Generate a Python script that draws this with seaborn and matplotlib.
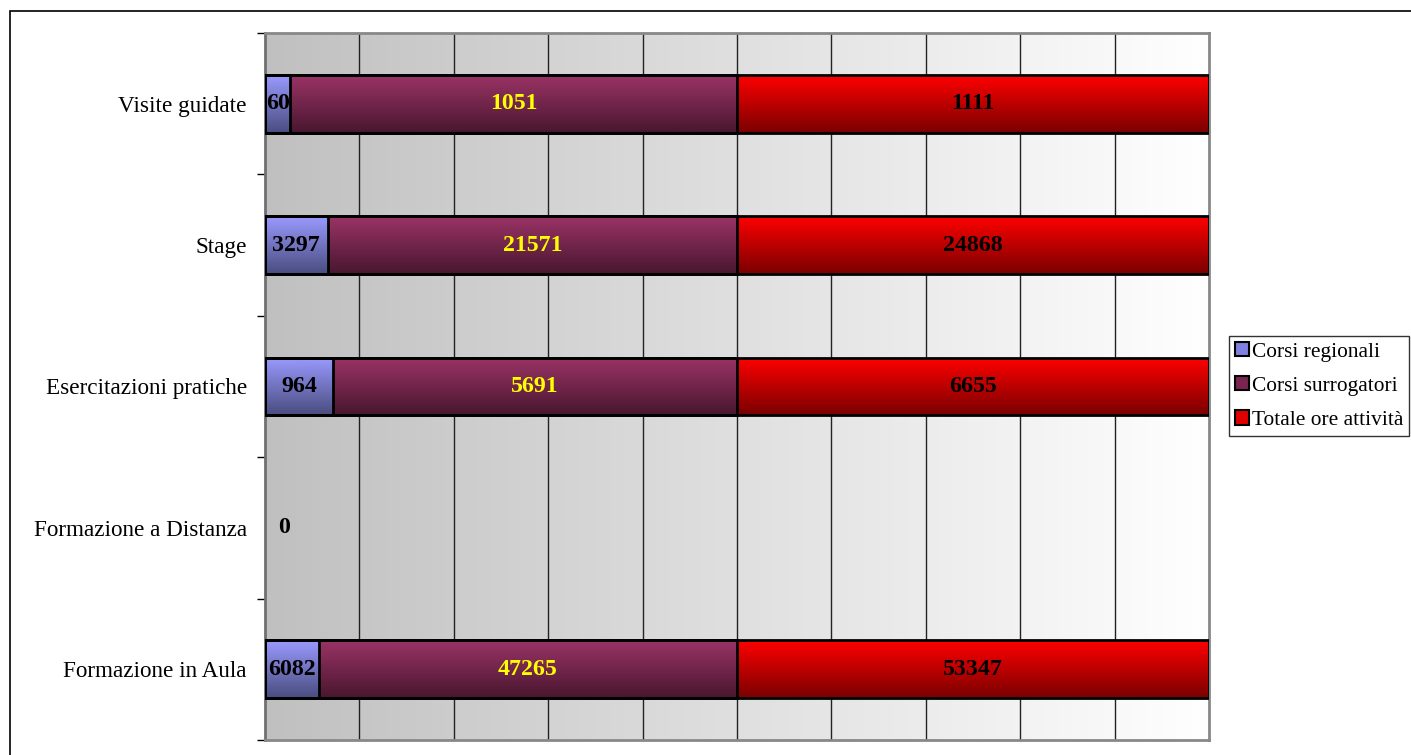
import numpy as np
import pandas as pd
import matplotlib
matplotlib.use("Agg")
import matplotlib.pyplot as plt
import matplotlib.patches as mpatches
import seaborn as sns

# ---- data ----
categories = ["Visite guidate", "Stage", "Esercitazioni pratiche",
              "Formazione a Distanza", "Formazione in Aula"]
regionali = [60, 3297, 964, 0, 6082]
surrogatori = [1051, 21571, 5691, 0, 47265]
totale = [1111, 24868, 6655, 0, 53347]
series_names = ["Corsi regionali", "Corsi surrogatori", "Totale ore attività"]

sns.set_theme(style="white")
plt.rcParams["font.family"] = ["Liberation Serif", "DejaVu Serif"]
plt.rcParams["text.color"] = "black"

reg = np.array(regionali, float)
sur = np.array(surrogatori, float)
tot = np.array(totale, float)
grand = reg + sur + tot
safe = np.where(grand > 0, grand, 1)
p_reg = reg / safe
p_sur = sur / safe
p_tot = tot / safe
cum1 = p_reg
cum2 = p_reg + p_sur
cum3 = p_reg + p_sur + p_tot

df = pd.DataFrame({"cat": categories, "c1": cum1, "c2": cum2, "c3": cum3})

grad = {
    "Corsi regionali": ("#9a9aff", "#4a4d80"),
    "Corsi surrogatori": ("#9b3366", "#48172f"),
    "Totale ore attività": ("#ff0000", "#7a0000"),
}

fig = plt.figure(figsize=(14.11, 7.55), dpi=100)
ax = fig.add_axes([265 / 1411, 1 - 740 / 755, (1209 - 265) / 1411, (740 - 33) / 755])

# outer border
fig.patches.append(mpatches.Rectangle((10 / 1411, -0.05), 1.1, 1 - 11 / 755 + 0.05,
                                      transform=fig.transFigure, fill=False,
                                      edgecolor="black", linewidth=1.2))

# background gradient
bg = np.linspace(0xc0 / 255, 1.0, 256)
bg_img = np.dstack([bg, bg, bg])
ax.imshow(bg_img, extent=(0, 1, 4.5, -0.5), aspect="auto", zorder=0, interpolation="bilinear")

bar_w = 0.41
z = 2
for col, name in [("c3", "Totale ore attività"), ("c2", "Corsi surrogatori"), ("c1", "Corsi regionali")]:
    n_before = len(ax.patches)
    sns.barplot(data=df, x=col, y="cat", orient="h", color=grad[name][0],
                width=bar_w, edgecolor="black", linewidth=2, ax=ax)
    top_c, bot_c = [np.array(matplotlib.colors.to_rgb(c)) for c in grad[name]]
    t = np.linspace(0, 1, 100)[:, None]
    g = (1 - t) * top_c + t * bot_c
    g_img = g[:, None, :]
    for p in ax.patches[n_before:]:
        x0, y0, w, h = p.get_x(), p.get_y(), p.get_width(), p.get_height()
        if w <= 0:
            p.set_visible(False)
            continue
        im = ax.imshow(g_img, extent=(x0, x0 + w, y0 + h, y0), aspect="auto",
                       zorder=z, interpolation="bilinear")
        im.set_clip_path(p)
        p.set_facecolor("none")
        p.set_zorder(10)
        z += 0.1

ax.set_xlim(0, 1)
ax.set_ylim(4.5, -0.5)

# grid
for gx in np.arange(0.1, 1.0, 0.1):
    ax.axvline(gx, color="#222222", linewidth=1, zorder=1)

# labels
lab_kw = dict(ha="center", va="center", fontsize=17.2, fontweight="bold", zorder=20)
for i in range(len(categories)):
    if grand[i] > 0:
        ax.text(cum1[i] / 2, i, f"{regionali[i]}", color="black", **lab_kw)
        ax.text((cum1[i] + cum2[i]) / 2, i, f"{surrogatori[i]}", color="#ffff00", **lab_kw)
        ax.text((cum2[i] + cum3[i]) / 2, i, f"{totale[i]}", color="black", **lab_kw)
    else:
        ax.annotate(f"{regionali[i]}", xy=(0, i), xytext=(14, 0), textcoords="offset points",
                    color="black", **lab_kw)

ax.set_xlabel("")
ax.set_ylabel("")
ax.set_xticks([])
ax.set_yticks(range(len(categories)))
ax.set_yticklabels(categories, fontsize=16.7)
ax.tick_params(axis="y", which="major", length=0, pad=13, labelcolor="black")
ax.set_yticks(np.arange(-0.5, len(categories), 1), minor=True)
ax.tick_params(axis="y", which="minor", length=6, width=1, color="black", direction="out", left=True)

for s in ax.spines.values():
    s.set_visible(True)
    s.set_color("#888888")
    s.set_linewidth(2)
ax.spines["left"].set_color("#707070")

handles = [mpatches.Patch(facecolor=c, edgecolor="black", linewidth=1.5, label=n)
           for n, c in zip(series_names, ["#7f80e0", "#7a2550", "#e00000"])]
leg = fig.legend(handles=handles, loc="center left",
                 bbox_to_anchor=(1229 / 1411, 1 - 386 / 755),
                 fontsize=15.4, frameon=True, fancybox=False, framealpha=1,
                 edgecolor="#333333", handlelength=0.65, handleheight=0.65,
                 handletextpad=0.15, labelspacing=0.68, borderpad=0.28,
                 borderaxespad=0, labelcolor="black")
leg.get_frame().set_linewidth(1)

fig.savefig("out.png", dpi=100)
